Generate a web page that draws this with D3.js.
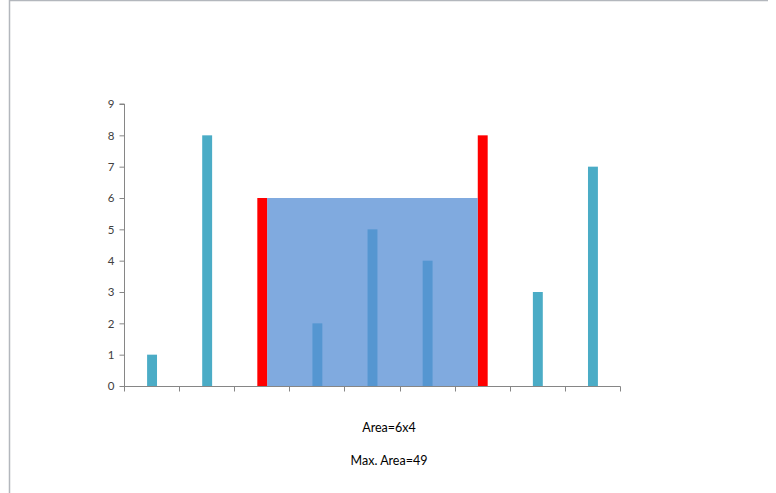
<!DOCTYPE html>
<html>
<head>
<meta charset="utf-8">
<script src="https://cdn.jsdelivr.net/npm/d3@7/dist/d3.min.js"></script>
<style>
  html, body { margin: 0; padding: 0; background: #fff; }
  svg { display: block; }
  text { font-family: Lato, "Open Sans", "Liberation Sans", sans-serif; }
</style>
</head>
<body>
<svg id="chart" width="776" height="493"></svg>
<script>
// Data
const categories = [0, 1, 2, 3, 4, 5, 6, 7, 8];
const heights = [1, 8, 6, 2, 5, 4, 8, 3, 7];
const leftIndex = 2;
const rightIndex = 6;
const yTicks = [0, 1, 2, 3, 4, 5, 6, 7, 8, 9];
const captionLines = ["Area=6x4", "Max. Area=49"];

const svg = d3.select("#chart");

// frame lines
svg.append("line").attr("x1", 9).attr("x2", 768).attr("y1", 0.5).attr("y2", 0.5)
  .attr("stroke", "#B3B7BD").attr("stroke-width", 1.5);
svg.append("line").attr("x1", 9.5).attr("x2", 9.5).attr("y1", 0).attr("y2", 493)
  .attr("stroke", "#B3B7BD").attr("stroke-width", 1.5);

const x = d3.scaleBand().domain(categories).range([124.5, 620.5])
  .paddingInner(0.82).paddingOuter(0.41);
const xEdges = d3.scaleBand().domain(categories).range([124, 620]).padding(0);
const y = d3.scaleLinear().domain([0, 9]).range([386, 104]);

// bars
svg.append("g").selectAll("rect").data(categories).join("rect")
  .attr("x", d => x(d))
  .attr("width", x.bandwidth())
  .attr("y", d => y(heights[d]))
  .attr("height", d => y(0) - y(heights[d]))
  .attr("fill", d => (d === leftIndex || d === rightIndex) ? "#FF0000" : "#4BACC6");

// water area
const waterLevel = Math.min(heights[leftIndex], heights[rightIndex]);
svg.append("rect")
  .attr("x", x(leftIndex) + x.bandwidth())
  .attr("width", x(rightIndex) - (x(leftIndex) + x.bandwidth()))
  .attr("y", y(waterLevel))
  .attr("height", y(0) - y(waterLevel))
  .attr("fill", "rgb(88,143,213)")
  .attr("fill-opacity", 0.76);

// y axis
const yAxis = d3.axisLeft(y).tickValues(yTicks).tickSize(5).tickPadding(6).tickFormat(d3.format("d"));
const gy = svg.append("g").attr("transform", "translate(124.5,0)").call(yAxis);
gy.selectAll("path, line").attr("stroke", "#868686");
gy.select(".domain").attr("d", `M-5,${y(9)}H0V${y(0)}`);
gy.selectAll("text").attr("font-size", 11.5).attr("fill", "#404040")
  .attr("x", -10)
  .style("font-family", "Lato, 'Open Sans', sans-serif");

// x axis (category boundaries ticks)
const edgeVals = categories.map(c => xEdges(c)).concat([xEdges(categories[categories.length - 1]) + xEdges.step()]);
const gx = svg.append("g").attr("transform", "translate(0,386.5)");
gx.append("line").attr("x1", 124).attr("x2", 620.5).attr("y1", 0).attr("y2", 0).attr("stroke", "#868686");
gx.selectAll("line.tick").data(edgeVals).join("line").attr("class", "tick")
  .attr("x1", d => Math.round(d) + 0.5).attr("x2", d => Math.round(d) + 0.5)
  .attr("y1", 0).attr("y2", 5).attr("stroke", "#868686");

// captions
svg.append("g").selectAll("text").data(captionLines).join("text")
  .attr("x", 389)
  .attr("y", (d, i) => 432 + i * 33)
  .attr("text-anchor", "middle")
  .attr("font-size", 12.5)
  .attr("fill", "#000")
  .text(d => d);
</script>
</body>
</html>
